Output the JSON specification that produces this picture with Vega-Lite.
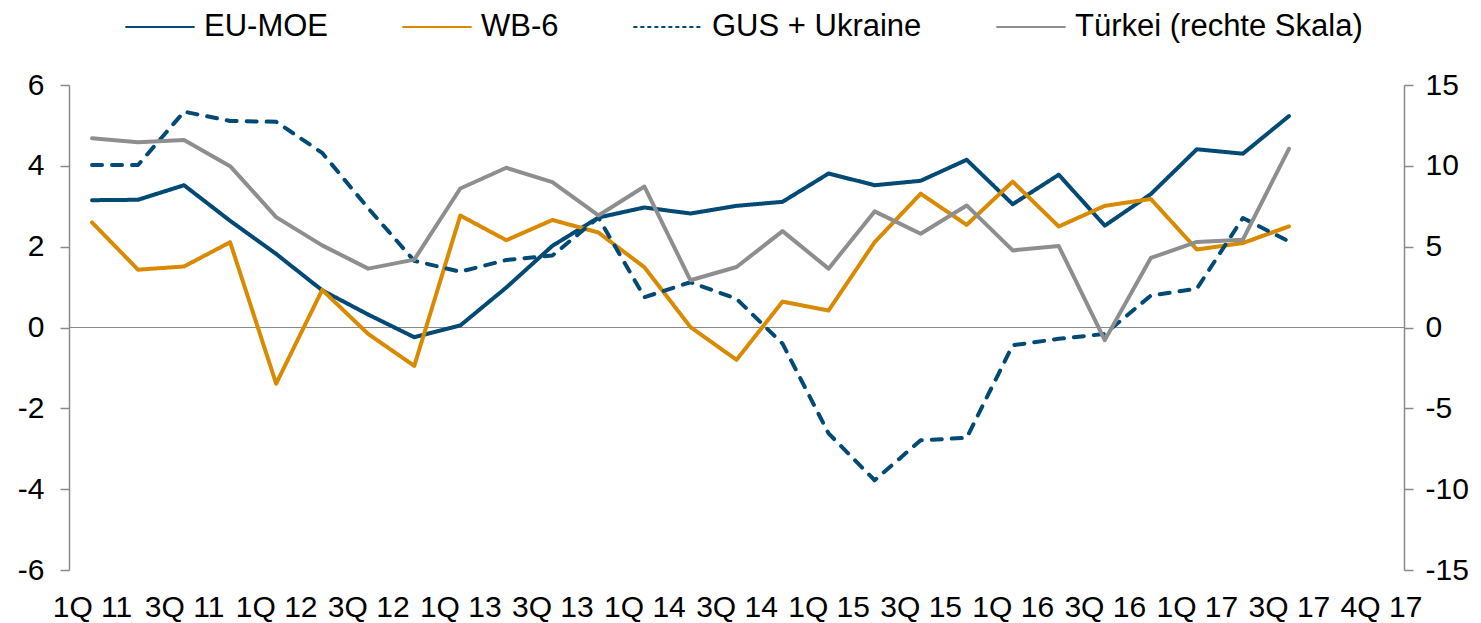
{
  "$schema": "https://vega.github.io/schema/vega-lite/v6.json",
  "autosize": {"type": "none"},
  "width": 1335,
  "height": 485,
  "padding": {"left": 69, "top": 85, "right": 77, "bottom": 53},
  "background": "white",
  "config": {
    "view": {"stroke": null},
    "font": "Liberation Sans",
    "axis": {"labelFont": "Liberation Sans", "labelColor": "#000000", "grid": false, "title": null},
    "legend": {"labelFont": "Liberation Sans"}
  },
  "data": {
    "values": [
      {"i": 0, "EU-MOE": 3.15, "WB-6": 2.60, "GUS + Ukraine": 4.02, "Türkei (rechte Skala)": 11.7},
      {"i": 1, "EU-MOE": 3.16, "WB-6": 1.43, "GUS + Ukraine": 4.02, "Türkei (rechte Skala)": 11.46},
      {"i": 2, "EU-MOE": 3.52, "WB-6": 1.51, "GUS + Ukraine": 5.34, "Türkei (rechte Skala)": 11.6},
      {"i": 3, "EU-MOE": 2.64, "WB-6": 2.11, "GUS + Ukraine": 5.11, "Türkei (rechte Skala)": 9.98},
      {"i": 4, "EU-MOE": 1.82, "WB-6": -1.39, "GUS + Ukraine": 5.09, "Türkei (rechte Skala)": 6.83},
      {"i": 5, "EU-MOE": 0.92, "WB-6": 0.93, "GUS + Ukraine": 4.32, "Türkei (rechte Skala)": 5.08},
      {"i": 6, "EU-MOE": 0.32, "WB-6": -0.16, "GUS + Ukraine": 2.95, "Türkei (rechte Skala)": 3.64},
      {"i": 7, "EU-MOE": -0.24, "WB-6": -0.95, "GUS + Ukraine": 1.65, "Türkei (rechte Skala)": 4.2},
      {"i": 8, "EU-MOE": 0.05, "WB-6": 2.77, "GUS + Ukraine": 1.38, "Türkei (rechte Skala)": 8.6},
      {"i": 9, "EU-MOE": 0.99, "WB-6": 2.16, "GUS + Ukraine": 1.67, "Türkei (rechte Skala)": 9.88},
      {"i": 10, "EU-MOE": 2.02, "WB-6": 2.66, "GUS + Ukraine": 1.78, "Türkei (rechte Skala)": 8.99},
      {"i": 11, "EU-MOE": 2.72, "WB-6": 2.35, "GUS + Ukraine": 2.72, "Türkei (rechte Skala)": 6.93},
      {"i": 12, "EU-MOE": 2.97, "WB-6": 1.49, "GUS + Ukraine": 0.75, "Türkei (rechte Skala)": 8.72},
      {"i": 13, "EU-MOE": 2.82, "WB-6": 0.01, "GUS + Ukraine": 1.12, "Türkei (rechte Skala)": 2.92},
      {"i": 14, "EU-MOE": 3.01, "WB-6": -0.8, "GUS + Ukraine": 0.71, "Türkei (rechte Skala)": 3.74},
      {"i": 15, "EU-MOE": 3.11, "WB-6": 0.64, "GUS + Ukraine": -0.4, "Türkei (rechte Skala)": 5.96},
      {"i": 16, "EU-MOE": 3.81, "WB-6": 0.42, "GUS + Ukraine": -2.62, "Türkei (rechte Skala)": 3.64},
      {"i": 17, "EU-MOE": 3.52, "WB-6": 2.11, "GUS + Ukraine": -3.78, "Türkei (rechte Skala)": 7.18},
      {"i": 18, "EU-MOE": 3.63, "WB-6": 3.31, "GUS + Ukraine": -2.79, "Türkei (rechte Skala)": 5.8},
      {"i": 19, "EU-MOE": 4.15, "WB-6": 2.54, "GUS + Ukraine": -2.73, "Türkei (rechte Skala)": 7.55},
      {"i": 20, "EU-MOE": 3.05, "WB-6": 3.61, "GUS + Ukraine": -0.44, "Türkei (rechte Skala)": 4.77},
      {"i": 21, "EU-MOE": 3.78, "WB-6": 2.5, "GUS + Ukraine": -0.28, "Türkei (rechte Skala)": 5.04},
      {"i": 22, "EU-MOE": 2.52, "WB-6": 3.01, "GUS + Ukraine": -0.16, "Türkei (rechte Skala)": -0.78},
      {"i": 23, "EU-MOE": 3.3, "WB-6": 3.18, "GUS + Ukraine": 0.79, "Türkei (rechte Skala)": 4.3},
      {"i": 24, "EU-MOE": 4.41, "WB-6": 1.93, "GUS + Ukraine": 0.96, "Türkei (rechte Skala)": 5.29},
      {"i": 25, "EU-MOE": 4.3, "WB-6": 2.09, "GUS + Ukraine": 2.71, "Türkei (rechte Skala)": 5.43},
      {"i": 26, "EU-MOE": 5.23, "WB-6": 2.5, "GUS + Ukraine": 2.13, "Türkei (rechte Skala)": 11.05}
    ]
  },
  "layer": [
    {
      "layer": [
        {
          "mark": {"type": "rule", "color": "#8a8a8a", "strokeWidth": 1.2},
          "encoding": {"y": {"datum": 0, "type": "quantitative"}}
        },
        {
          "transform": [{"fold": ["EU-MOE", "WB-6", "GUS + Ukraine"], "as": ["key", "value"]}],
          "mark": {"type": "line", "strokeWidth": 4, "strokeCap": "round", "strokeJoin": "round"},
          "encoding": {
            "x": {
              "field": "i", "type": "quantitative",
              "scale": {"domain": [-0.5, 28.5], "nice": false, "zero": false},
              "axis": {
                "values": [0, 2, 4, 6, 8, 10, 12, 14, 16, 18, 20, 22, 24, 26, 28],
                "labelExpr": "['1Q 11','3Q 11','1Q 12','3Q 12','1Q 13','3Q 13','1Q 14','3Q 14','1Q 15','3Q 15','1Q 16','3Q 16','1Q 17','3Q 17','4Q 17'][datum.value/2]",
                "domain": false, "ticks": false, "labelFontSize": 30, "labelPadding": 22,
                "labelOverlap": false, "labelFlush": false, "labelBound": false
              }
            },
            "y": {
              "field": "value", "type": "quantitative",
              "scale": {"domain": [-6, 6], "nice": false},
              "axis": {
                "orient": "left", "values": [-6, -4, -2, 0, 2, 4, 6],
                "labelExpr": "toString(datum.value)",
                "domainColor": "#8a8a8a", "domainWidth": 1.5, "tickColor": "#8a8a8a", "tickWidth": 1.5, "tickSize": 9,
                "labelFontSize": 30, "labelPadding": 16
              }
            },
            "color": {
              "field": "key", "type": "nominal",
              "scale": {"domain": ["EU-MOE", "WB-6", "GUS + Ukraine", "Türkei (rechte Skala)"], "range": ["#004A75", "#D98A00", "#004A75", "#8E8E90"]},
              "legend": {
                "title": null, "orient": "none", "direction": "horizontal", "columns": 4,
                "legendX": 55, "legendY": -94,
                "symbolType": "stroke", "symbolSize": 4800, "symbolStrokeWidth": 2,
                "labelFontSize": 31, "labelColor": "#000000", "labelLimit": 0, "labelOffset": 8,
                "columnPadding": 70,
                "encode": {"symbols": {"update": {"strokeDash": {"signal": "datum.value === 'GUS + Ukraine' ? [4, 3] : null"}}}}
              }
            },
            "strokeDash": {
              "condition": {"test": "datum.key === 'GUS + Ukraine'", "value": [10, 10]},
              "value": [1, 0]
            }
          }
        }
      ]
    },
    {
      "transform": [{"fold": ["Türkei (rechte Skala)"], "as": ["key", "value"]}],
      "mark": {"type": "line", "strokeWidth": 4, "strokeCap": "round", "strokeJoin": "round"},
      "encoding": {
        "x": {"field": "i", "type": "quantitative"},
        "y": {
          "field": "value", "type": "quantitative",
          "scale": {"domain": [-15, 15], "nice": false},
          "axis": {
            "orient": "right", "values": [-15, -10, -5, 0, 5, 10, 15],
            "labelExpr": "toString(datum.value)",
            "domainColor": "#8a8a8a", "domainWidth": 1.5, "tickColor": "#8a8a8a", "tickWidth": 1.5, "tickSize": 9,
            "labelFontSize": 30, "labelPadding": 12
          }
        },
        "color": {"field": "key", "type": "nominal"}
      }
    }
  ],
  "resolve": {"scale": {"y": "independent"}}
}
